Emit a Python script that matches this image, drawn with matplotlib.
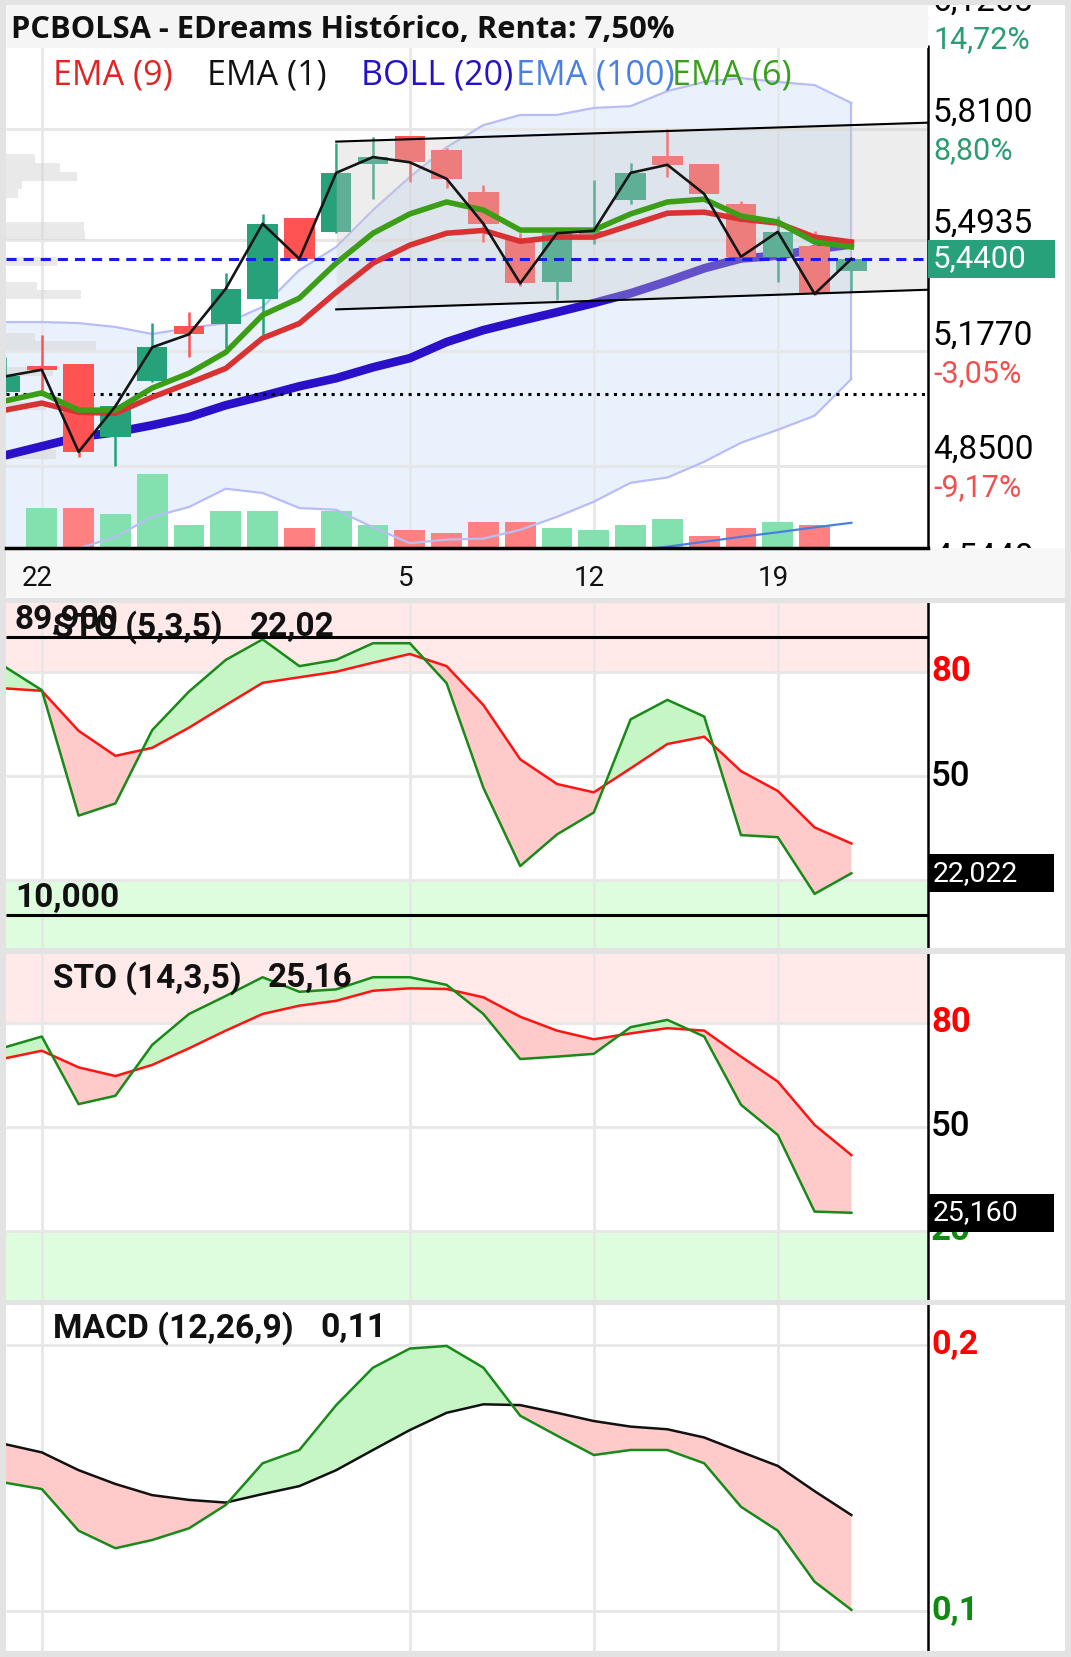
import matplotlib
matplotlib.use("Agg")
import matplotlib.pyplot as plt
import matplotlib.transforms as mtransforms
from matplotlib.patches import Rectangle
import numpy as np

plt.rcParams['font.family'] = ['Roboto', 'DejaVu Sans']

# ---------------- data ----------------
days = list(range(24))
date_ticks = [1, 11, 16, 21]
date_labels = ['22', '5', '12', '19']

opens  = [5.062, 5.134, 5.140, 4.933, 5.093, 5.250, 5.254, 5.326, 5.557, 5.517, 5.710, 5.790,
          5.750, 5.631, 5.494, 5.373, 5.510, 5.607, 5.733, 5.709, 5.596, 5.446, 5.477, 5.404]
highs  = [5.160, 5.223, 5.140, 5.025, 5.256, 5.288, 5.400, 5.568, 5.557, 5.769, 5.786, 5.790,
          5.755, 5.650, 5.513, 5.513, 5.664, 5.714, 5.809, 5.709, 5.605, 5.562, 5.518, 5.440]
lows   = [5.058, 5.062, 4.875, 4.850, 5.090, 5.161, 5.185, 5.223, 5.440, 5.513, 5.610, 5.660,
          5.641, 5.489, 5.364, 5.323, 5.482, 5.595, 5.674, 5.622, 5.441, 5.375, 5.337, 5.347]
closes = [5.105, 5.124, 4.890, 5.020, 5.188, 5.225, 5.355, 5.540, 5.440, 5.685, 5.730, 5.715,
          5.668, 5.540, 5.370, 5.513, 5.520, 5.685, 5.708, 5.625, 5.446, 5.517, 5.340, 5.440]

ema6 = [5.035, 5.058, 5.009, 5.009, 5.072, 5.114, 5.174, 5.280, 5.328, 5.428, 5.513, 5.568,
        5.602, 5.579, 5.522, 5.522, 5.522, 5.568, 5.602, 5.610, 5.562, 5.545, 5.488, 5.474]
ema9 = [5.009, 5.029, 5.003, 5.000, 5.046, 5.086, 5.128, 5.214, 5.256, 5.345, 5.428, 5.479,
        5.513, 5.521, 5.490, 5.502, 5.502, 5.536, 5.570, 5.573, 5.553, 5.542, 5.502, 5.488]
boll_mid = [4.880, 4.906, 4.932, 4.946, 4.966, 4.989, 5.023, 5.049, 5.077, 5.100, 5.131, 5.157,
            5.203, 5.237, 5.263, 5.288, 5.314, 5.342, 5.376, 5.413, 5.441, 5.449, 5.467, 5.481]
boll_up = [5.260, 5.260, 5.257, 5.246, 5.226, 5.243, 5.257, 5.303, 5.408, 5.474, 5.579, 5.673,
           5.758, 5.821, 5.850, 5.850, 5.870, 5.875, 5.918, 5.944, 5.955, 5.944, 5.935, 5.884]
boll_low = [4.500, 4.552, 4.615, 4.648, 4.705, 4.733, 4.785, 4.773, 4.730, 4.725, 4.675, 4.630,
            4.640, 4.643, 4.668, 4.705, 4.748, 4.802, 4.817, 4.862, 4.916, 4.953, 4.993, 5.098]

ema100_days = [17, 18, 19, 20, 21, 22, 23]
ema100 = [4.606, 4.620, 4.634, 4.648, 4.661, 4.675, 4.688]

vol_days = list(range(1, 23))
volumes = [120, 120, 103, 221, 70, 111, 111, 61, 111, 70, 53, 45, 78, 78, 61, 53, 70, 86, 36, 61, 78, 70]
vol_up = [1, 0, 1, 1, 1, 1, 1, 0, 1, 1, 0, 0, 0, 0, 1, 1, 1, 1, 0, 0, 1, 0]

vp_prices = [5.726, 5.700, 5.675, 5.650, 5.626, 5.532, 5.507, 5.432, 5.363, 5.338, 5.217, 5.193, 5.119, 5.021, 4.883]
vp_volume = [29, 54, 71, 16, 12, 78, 79, 51, 31, 75, 29, 90, 47, 40, 50]

chan_days = [9, 25.08]
chan_top = [5.774, 5.828]
chan_bot = [5.296, 5.352]

last_price = 5.44
ref_level = 5.055
price_ticks = [6.1265, 5.81, 5.4935, 5.177, 4.85, 4.544]
price_labels = ['6,1265', '5,8100', '5,4935', '5,1770', '4,8500', '4,5440']
pct_labels = ['14,72%', '8,80%', '2,87%', '-3,05%', '-9,17%', '-14,91%']

sto1_k = [81.4, 74.7, 38.6, 42.1, 63.2, 74.3, 83.4, 89.3, 81.6, 83.4, 88.2, 88.2,
          76.7, 46.6, 24.1, 33.2, 39.5, 66.3, 71.9, 67.1, 33.0, 32.4, 16.1, 22.02]
sto1_d = [75.2, 74.5, 63.0, 55.8, 58.1, 63.9, 70.4, 76.8, 78.4, 80.0, 82.6, 85.1,
          81.6, 70.4, 54.8, 47.7, 45.3, 52.2, 59.2, 61.3, 51.4, 45.7, 35.2, 30.6]
sto1_levels = [89.9, 10.0]
sto2_k = [72.9, 76.0, 56.5, 58.9, 73.6, 82.5, 87.7, 93.1, 88.9, 89.6, 93.1, 93.1,
          90.9, 82.5, 69.5, 70.2, 71.0, 78.7, 80.8, 76.0, 56.3, 47.6, 25.5, 25.16]
sto2_d = [69.7, 71.9, 67.1, 64.6, 67.8, 72.6, 77.7, 82.5, 84.9, 86.3, 89.2, 89.9,
          89.7, 87.3, 81.7, 77.7, 75.2, 76.9, 78.4, 77.7, 70.2, 63.0, 50.5, 41.8]
macd_line = [0.1482, 0.1458, 0.1301, 0.1235, 0.1266, 0.1310, 0.1398, 0.1555, 0.1605, 0.1774, 0.1915, 0.1987,
             0.1997, 0.1915, 0.1734, 0.1659, 0.1586, 0.1605, 0.1605, 0.1555, 0.1391, 0.1301, 0.1109, 0.1003]
macd_signal = [0.1627, 0.1596, 0.1529, 0.1477, 0.1435, 0.1417, 0.1407, 0.1439, 0.1469, 0.1529, 0.1605, 0.1680,
               0.1745, 0.1777, 0.1774, 0.1745, 0.1714, 0.1693, 0.1683, 0.1652, 0.1598, 0.1545, 0.1450, 0.1360]

# ---------------- layout ----------------
W, H, DPI = 1071, 1657, 100
fig = plt.figure(figsize=(W / DPI, H / DPI), dpi=DPI, facecolor='#e3e3e3')


def rect(x0, y0, x1, y1):
    return [x0 / W, 1 - y1 / H, (x1 - x0) / W, (y1 - y0) / H]


X0_PX, STEP_PX = 5.0, 36.8


def xd(px):
    return (px - X0_PX) / STEP_PX


XL, XR = xd(6), xd(1065)
XAX = xd(928)
LAB_X = xd(933)
AX_W = 1059.0
GRID = '#e7e7e7'


def prep(a, fc='white'):
    a.set_facecolor(fc)
    a.set_xticks([])
    a.set_yticks([])
    for s in a.spines.values():
        s.set_visible(False)
    a.set_xlim(XL, XR)
    a.autoscale(False)


def ftext(xpx, ypx, s, **kw):
    return fig.text(xpx / W, 1 - ypx / H, s, **kw)


# date strip (added first so the main panel's bottom line sits on top)
axd = fig.add_axes(rect(6, 548, 1065, 598))
prep(axd, '#f7f7f7')
axd.set_ylim(0, 1)
for t, lab in zip(date_ticks, date_labels):
    axd.text(t - 0.12, 0.40, lab, ha='center', va='center', fontsize=20, color='#111111')

# ---------------- main panel ----------------
ax = fig.add_axes(rect(6, 5, 1065, 548))
prep(ax)
ax.set_ylim(4.6162, 6.1632)
ymin, ymax = ax.get_ylim()
px_per_price = 543.0 / (ymax - ymin)

ax.fill_between(days, boll_low, boll_up, facecolor='#e9f1fd', edgecolor='none', zorder=1)
ax.hlines(price_ticks, XL, XAX, colors=GRID, lw=2.2, zorder=1.5)
for t in date_ticks:
    ax.axvline(t, color=GRID, lw=2, zorder=1.5)

vp_tr = mtransforms.blended_transform_factory(
    mtransforms.Affine2D().scale(1 / AX_W, 1) + ax.transAxes, ax.transData)
ax.barh(vp_prices, vp_volume, height=0.024, left=0, color='#d8d8d8', alpha=0.55,
        transform=vp_tr, zorder=2, linewidth=0)

VOL_TOP = 1628.0
vol_tr = mtransforms.blended_transform_factory(
    ax.transData, mtransforms.Affine2D().scale(1, 1 / VOL_TOP) + ax.transAxes)
ax.bar(vol_days, volumes, width=0.84,
       color=['#82e1af' if u else '#ff8080' for u in vol_up],
       transform=vol_tr, zorder=2.5, linewidth=0)

ax.plot(days, boll_up, color='#b8bdf5', lw=1.6, zorder=3)
ax.plot(days, boll_low, color='#b8bdf5', lw=1.6, zorder=3)
ax.plot([days[-1], days[-1]], [boll_low[-1], boll_up[-1]], color='#b8bdf5', lw=1.6, zorder=3)
ax.plot(ema100_days, ema100, color='#4a7ee6', lw=1.6, zorder=3)

ax.hlines(ref_level, XL, XAX, colors='black', linestyles=(0, (1, 1.8)), lw=2.2, zorder=4.5)
ax.plot(days, boll_mid, color='#2a10c8', lw=6.2, solid_capstyle='butt', zorder=4)

o, h, l, c = map(np.array, (opens, highs, lows, closes))
ccol = ['#26a17a' if cc >= oo else '#ff5252' for oo, cc in zip(o, c)]
ax.vlines(days, l, h, colors=ccol, lw=1.8, zorder=5)
ax.bar(days, np.maximum(np.abs(c - o), 0.006), bottom=np.minimum(o, c), width=0.83,
       color=ccol, linewidth=0, zorder=5.1)

ax.fill_between(chan_days, chan_bot, chan_top, color=(0.8, 0.8, 0.8), alpha=0.35, lw=0, zorder=6)
ax.plot(chan_days, chan_top, color='black', lw=1.5, zorder=8)
ax.plot(chan_days, chan_bot, color='black', lw=1.5, zorder=8)
ax.hlines(last_price, XL, XAX, colors='#1a1aee', linestyles=(0, (3.3, 2.3)), lw=2.2, zorder=6.5)

ax.plot(days, ema9, color='#d93232', lw=4, zorder=7, solid_joinstyle='round')
ax.plot(days, ema6, color='#3c9e16', lw=4, zorder=7.1, solid_joinstyle='round')
ax.plot(days, closes, color='#151515', lw=1.9, zorder=8)

# axis frame
ax.plot([XL, XAX], [ymin, ymin], color='black', lw=2.5, clip_on=False, zorder=10)
ax.vlines(XAX, ymin, ymax - (45 - 5) / px_per_price, colors='black', lw=1.8, zorder=10)

up_tr = mtransforms.offset_copy(ax.transData, fig=fig, y=16, units='dots')
dn_tr = mtransforms.offset_copy(ax.transData, fig=fig, y=-22, units='dots')
for p, lab, pct in zip(price_ticks, price_labels, pct_labels):
    ax.text(LAB_X, p, lab, transform=up_tr, ha='left', va='center', fontsize=24,
            color='black', clip_on=True, zorder=9)
    ax.text(LAB_X, p, pct, transform=dn_tr, ha='left', va='center', fontsize=22,
            color='#f24f4f' if pct.startswith('-') else '#2a9d70', clip_on=True, zorder=9)

hh = 19.3 / px_per_price
ax.add_patch(Rectangle((XAX, last_price - hh), xd(1055) - XAX, 2 * hh, facecolor='#26a17a',
                       edgecolor='none', zorder=11, clip_on=False))
ax.text(LAB_X, last_price, '5,4400', ha='left', va='center', fontsize=22.5, color='white', zorder=12)

# title bar + legend
fig.add_artist(Rectangle((6 / W, 1 - 48 / H), 922 / W, 43 / H, transform=fig.transFigure,
                         facecolor='#f5f5f5', edgecolor='none', zorder=5))
ftext(11, 37.5, 'PCBOLSA - EDreams Histórico, Renta: 7,50%', fontsize=22.2, fontweight='bold',
      family=['Open Sans', 'DejaVu Sans'], va='baseline', color='#111111', zorder=6)
leg = [('EMA (9)', '#e02424', 53), ('EMA (1)', '#111111', 207), ('BOLL (20)', '#2412c8', 361),
       ('EMA (100)', '#4a80e4', 516), ('EMA (6)', '#38a01a', 672)]
for s, col, xp in leg:
    ftext(xp, 84, s, fontsize=24.5, color=col, family=['Open Sans', 'DejaVu Sans'], va='baseline', zorder=6)


# ---------------- oscillator panels ----------------
def osc_axes(y0, y1, ylo, yhi):
    a = fig.add_axes(rect(6, y0, 1065, y1))
    prep(a)
    a.set_ylim(ylo, yhi)
    for t in date_ticks:
        a.axvline(t, color=GRID, lw=2, zorder=1)
    a.axvline(XAX, color='black', lw=1.8, zorder=6)
    return a


def draw_pair(a, k, d, kcol, dcol):
    k = np.array(k)
    d = np.array(d)
    a.fill_between(days, k, d, where=k >= d, interpolate=True, color='#c6f6c6', lw=0, zorder=2)
    a.fill_between(days, k, d, where=k <= d, interpolate=True, color='#ffcaca', lw=0, zorder=2)
    a.plot(days, d, color=dcol, lw=1.8, zorder=3)
    a.plot(days, k, color=kcol, lw=1.8, zorder=3)


def value_box(a, val, txt, half_px, px_per_unit):
    hb = half_px / px_per_unit
    a.add_patch(Rectangle((XAX, val - hb), xd(1054) - XAX, 2 * hb, facecolor='black',
                          edgecolor='none', zorder=11, clip_on=False))
    a.text(LAB_X, val, txt, ha='left', va='center', fontsize=20.5, color='white', zorder=12)


frac_ax = (XAX - XL) / (XR - XL)

for (y0, y1, ylo, yhi, k, d, name, val, valtxt, tname, tval, ty, vx) in [
        (603, 948, 0.53, 99.76, sto1_k, sto1_d, 'sto1', sto1_k[-1], '22,022', 'STO (5,3,5)', '22,02', 627, 250),
        (954, 1300, 0.0, 99.8, sto2_k, sto2_d, 'sto2', sto2_k[-1], '25,160', 'STO (14,3,5)', '25,16', 978, 268)]:
    a = osc_axes(y0, y1, ylo, yhi)
    a.axhspan(80, 110, xmin=0, xmax=frac_ax, color='#ffe9e9', lw=0, zorder=0.5)
    a.axhspan(-10, 20, xmin=0, xmax=frac_ax, color='#defcde', lw=0, zorder=0.5)
    a.hlines([20, 50, 80], XL, XAX, colors=GRID, lw=2, zorder=1)
    draw_pair(a, k, d, '#198a19', '#ff1414')
    if name == 'sto1':
        a.hlines(sto1_levels, XL, XAX, colors='black', lw=2.2, zorder=4)
    a.text(xd(931), 80, '80', ha='left', va='center', fontsize=25, fontweight='bold', color='#ff0000', zorder=5)
    a.text(xd(931), 50, '50', ha='left', va='center', fontsize=25, fontweight='medium', color='black', zorder=5)
    a.text(xd(931), 20, '20', ha='left', va='center', fontsize=25, fontweight='bold', color='#0e8a0e', zorder=5)
    ppu = (y1 - y0) / (yhi - ylo)
    value_box(a, val, valtxt, 19, ppu)
    ftext(53, ty, tname, fontsize=24, fontweight='bold', va='center', color='#111111')
    ftext(vx, ty, tval, fontsize=24, fontweight='bold', va='center', color='#111111')

ftext(15, 620, '89,900', fontsize=24, fontweight='bold', va='center', color='#111111')
ftext(15, 898, '10,000', fontsize=24, fontweight='bold', va='center', color='#111111')

# MACD
a3 = osc_axes(1305, 1651, 0.0848, 0.2151)
a3.hlines([0.1, 0.2], XL, XAX, colors=GRID, lw=2, zorder=1)
draw_pair(a3, macd_line, macd_signal, '#198a19', '#111111')
a3.text(xd(931), 0.2, '0,2', ha='left', va='center', fontsize=24.5, fontweight='bold', color='#ff0000', zorder=5)
a3.text(xd(931), 0.1, '0,1', ha='left', va='center', fontsize=24.5, fontweight='bold', color='#0e8a0e', zorder=5)
ftext(53, 1328, 'MACD (12,26,9)', fontsize=24.2, fontweight='bold', va='center', color='#111111')
ftext(320, 1328, '0,11', fontsize=24.2, fontweight='bold', va='center', color='#111111')

fig.savefig('out.png', dpi=DPI, facecolor=fig.get_facecolor())
